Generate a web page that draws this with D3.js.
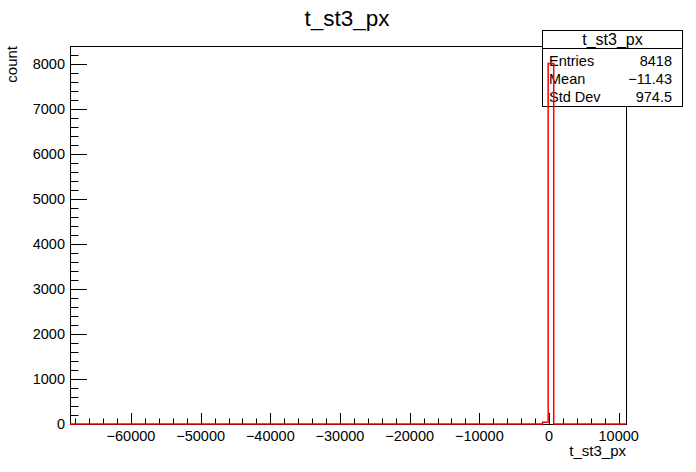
<!DOCTYPE html>
<html>
<head>
<meta charset="utf-8">
<script src="https://cdn.jsdelivr.net/npm/d3@7"></script>
<style>
  html, body { margin: 0; padding: 0; background: #fff; }
  svg { display: block; font-family: "Liberation Sans", Arial, sans-serif; }
</style>
</head>
<body>
<svg id="chart" width="696" height="472"></svg>
<script>
// ---- data ----
const chartTitle = "t_st3_px";
const xTitle = "t_st3_px";
const yTitle = "count";
const xRange = [-68750, 11050];
const yRange = [0, 8390];
const nBins = 100;
// bin contents (100 equal bins over xRange)
const binCounts = [
  0,0,0,0,0,0,0,0,0,0,
  0,0,0,0,0,0,0,0,0,0,
  0,0,0,0,0,0,0,0,0,0,
  0,0,0,0,0,0,0,0,0,0,
  0,0,0,0,0,0,0,0,0,0,
  0,0,0,0,0,0,0,0,0,0,
  0,0,0,0,0,0,0,0,0,0,
  0,0,0,0,0,0,0,0,0,0,
  0,0,0,0,0,40,8000,0,0,0,
  0,0,0,0,0,0,0,0,0,0
];
const xMajorTicks = [-60000, -50000, -40000, -30000, -20000, -10000, 0, 10000];
const xTickLabels = ["\u221260000", "\u221250000", "\u221240000", "\u221230000", "\u221220000", "\u221210000", "0", "10000"];
const yMajorTicks = [0, 1000, 2000, 3000, 4000, 5000, 6000, 7000, 8000];
const statsLabels = ["Entries", "Mean", "Std Dev"];
const statsValues = ["8418", "\u221211.43", "974.5"];

// ---- layout ----
const svg = d3.select("#chart");
const frame = { left: 70, right: 626, top: 46, bottom: 424 };
const x = d3.scaleLinear().domain(xRange).range([frame.left, frame.right]);
const y = d3.scaleLinear().domain(yRange).range([frame.bottom, frame.top]);

// title
svg.append("text").attr("x", 347).attr("y", 26).attr("text-anchor", "middle")
  .attr("font-size", 22.5).text(chartTitle);

// frame
svg.append("rect").attr("x", frame.left + 0.5).attr("y", frame.top + 0.5)
  .attr("width", frame.right - frame.left).attr("height", frame.bottom - frame.top)
  .attr("fill", "none").attr("stroke", "#000").attr("stroke-width", 1);

// minor/major ticks
const xMinor = d3.range(-68000, 11001, 2000).filter(v => v % 10000 !== 0);
const yMinor = d3.range(200, 8390, 200).filter(v => v % 1000 !== 0);
const tickG = svg.append("g").attr("stroke", "#000").attr("stroke-width", 1);
xMajorTicks.forEach(v => {
  const px = Math.round(x(v)) + 0.5;
  tickG.append("line").attr("x1", px).attr("x2", px).attr("y1", frame.bottom).attr("y2", frame.bottom - 11);
});
xMinor.forEach(v => {
  const px = Math.round(x(v)) + 0.5;
  tickG.append("line").attr("x1", px).attr("x2", px).attr("y1", frame.bottom).attr("y2", frame.bottom - 5.5);
});
yMajorTicks.forEach(v => {
  const py = Math.round(y(v)) + 0.5;
  tickG.append("line").attr("x1", frame.left).attr("x2", frame.left + 17).attr("y1", py).attr("y2", py);
});
yMinor.forEach(v => {
  const py = Math.round(y(v)) + 0.5;
  tickG.append("line").attr("x1", frame.left).attr("x2", frame.left + 8.5).attr("y1", py).attr("y2", py);
});

// tick labels
xMajorTicks.forEach((v, i) => {
  svg.append("text").attr("x", x(v)).attr("y", 441).attr("text-anchor", "middle")
    .attr("font-size", 14.5).text(xTickLabels[i]);
});
yMajorTicks.forEach(v => {
  svg.append("text").attr("x", 65).attr("y", y(v) + 5).attr("text-anchor", "end")
    .attr("font-size", 14.5).text(v);
});

// axis titles
svg.append("text").attr("x", 626).attr("y", 456).attr("text-anchor", "end")
  .attr("font-size", 15).text(xTitle);
svg.append("text").attr("transform", "translate(17,46) rotate(-90)")
  .attr("text-anchor", "end").attr("font-size", 15).text(yTitle);

// stats box
const box = { x: 542.5, y: 30.5, w: 140, h: 76 };
svg.append("rect").attr("x", box.x).attr("y", box.y).attr("width", box.w).attr("height", box.h)
  .attr("fill", "#fff").attr("stroke", "#000").attr("stroke-width", 1);
svg.append("line").attr("x1", box.x).attr("x2", box.x + box.w).attr("y1", 48.5).attr("y2", 48.5)
  .attr("stroke", "#000");
svg.append("text").attr("x", box.x + box.w / 2).attr("y", 45).attr("text-anchor", "middle")
  .attr("font-size", 16).text(chartTitle);
const rowY = [66, 83.5, 101.5];
statsLabels.forEach((l, i) => {
  svg.append("text").attr("x", 549).attr("y", rowY[i]).attr("font-size", 14.5).text(l);
  svg.append("text").attr("x", 672).attr("y", rowY[i]).attr("text-anchor", "end")
    .attr("font-size", 14.5).text(statsValues[i]);
});

// histogram outline (step path)
const binW = (xRange[1] - xRange[0]) / nBins;
let pts = [[x(xRange[0]), y(0)]];
binCounts.forEach((c, i) => {
  const x0 = xRange[0] + i * binW, x1 = x0 + binW;
  pts.push([x(x0), y(c)]);
  pts.push([x(x1), y(c)]);
});
pts.push([x(xRange[1]), y(0)]);
svg.append("path").attr("d", d3.line()(pts)).attr("fill", "none")
  .attr("stroke", "#ff0000").attr("stroke-width", 1.5);
</script>
</body>
</html>
